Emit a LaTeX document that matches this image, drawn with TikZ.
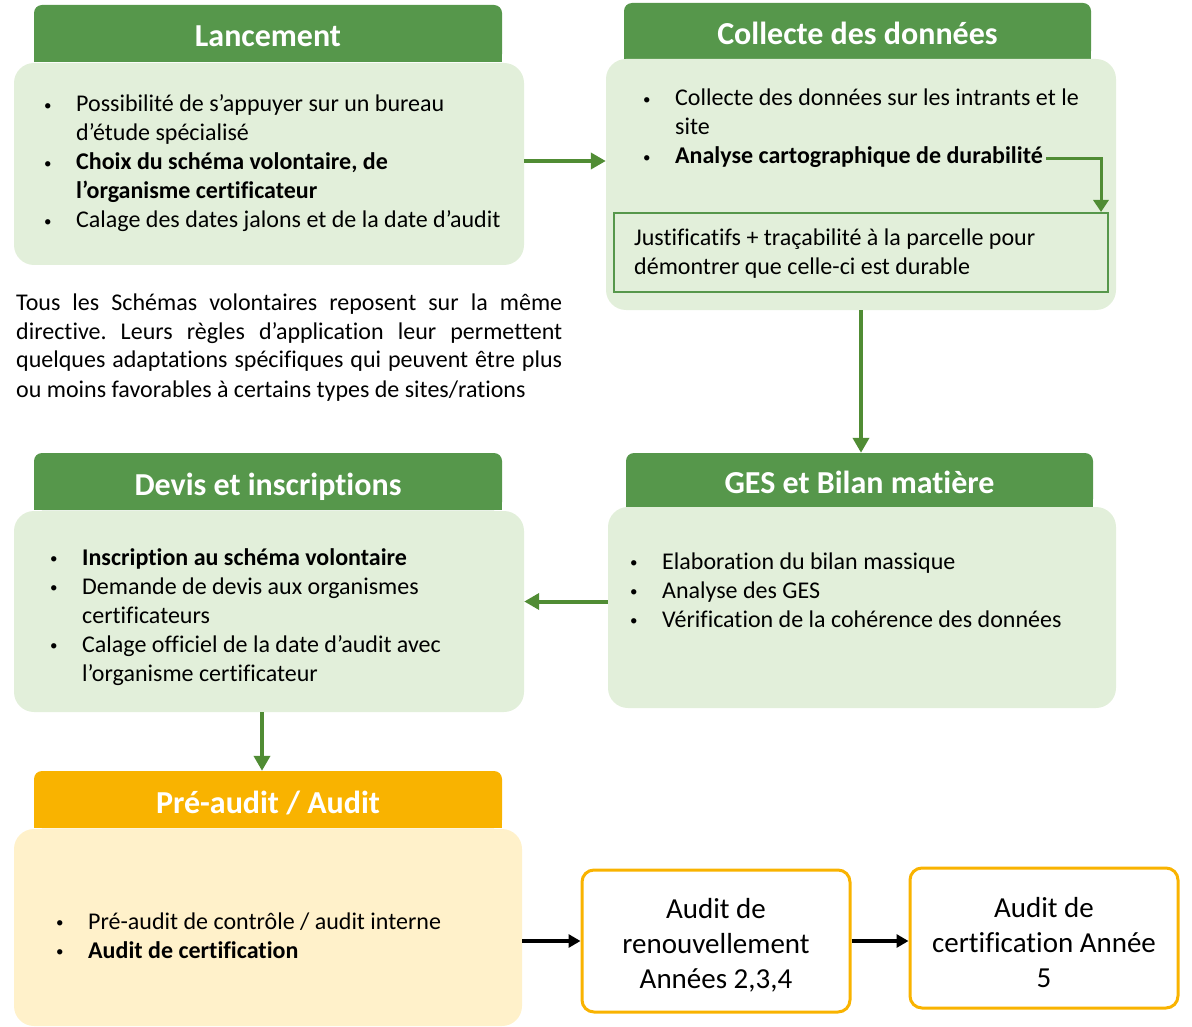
\documentclass[tikz,border=0pt]{standalone}
\usepackage{fontspec}
\setmainfont{Carlito}[Ligatures=CommonOff]
\usetikzlibrary{arrows.meta,backgrounds}
\definecolor{hdgreen}{RGB}{86,151,75}
\definecolor{arrgreen}{RGB}{80,140,52}
\definecolor{lightgreen}{RGB}{226,239,218}
\definecolor{gold}{RGB}{249,179,0}
\definecolor{lightgold}{RGB}{255,241,202}
\newcommand\bul{\makebox[32pt][l]{\raisebox{1.5pt}{\fontsize{15}{15}\selectfont\textbullet}}}
\newcommand\ind{\hspace*{32pt}}
\frenchspacing
\begin{document}
\begin{tikzpicture}[x=1pt,y=-1pt,
  hdr/.style={rectangle, rounded corners=8pt, inner sep=0pt, text=white,
    text height=27pt, text depth=0pt,
    font=\fontsize{32}{38}\selectfont\bfseries},
  body/.style={rectangle, rounded corners=20pt, inner sep=0pt},
  txt/.style={anchor=base west, inner sep=0pt, font=\fontsize{24}{29}\selectfont},
  garrow/.style={draw=arrgreen, line width=4pt, -{Triangle[length=15pt,width=16pt]}},
  karrow/.style={draw=black, line width=3.5pt, -{Triangle[length=12pt,width=13pt]}},
  auditbox/.style={rectangle, rounded corners=12pt, draw=gold, line width=3pt,
    fill=white, align=center, inner sep=0pt, font=\fontsize{29}{35}\selectfont}
]
\useasboundingbox (0,0) rectangle (1192,1027);

% ---- headers (tab shapes: rounded top, square bottom) ----
\node[hdr, fill=hdgreen, minimum width=468pt, minimum height=57pt] (lanH) at (268,33.5) {Lancement};
\node[hdr, fill=hdgreen, minimum width=467pt, minimum height=56pt] (colH) at (857.5,31) {Collecte des données};
\node[hdr, fill=hdgreen, minimum width=467pt, minimum height=54pt] (gesH) at (859.5,480) {GES et Bilan matière};
\node[hdr, fill=hdgreen, minimum width=468pt, minimum height=57pt] (devH) at (268,481.5) {Devis et inscriptions};
\node[hdr, fill=gold, minimum width=468pt, minimum height=57pt] (preH) at (268,799.5) {Pré-audit / Audit};
\begin{scope}[on background layer]
  \fill[hdgreen] (lanH.west) rectangle (lanH.south east);
  \fill[hdgreen] (colH.west) rectangle (colH.south east);
  \fill[hdgreen] (gesH.west) rectangle (gesH.south east);
  \fill[hdgreen] (devH.west) rectangle (devH.south east);
  \fill[gold] (preH.west) rectangle (preH.south east);
\end{scope}

% ---- bodies ----
\node[body, fill=lightgreen, minimum width=510pt, minimum height=202pt] (lanB) at (269,164) {};
\node[body, fill=lightgreen, minimum width=510pt, minimum height=251pt] (colB) at (861,184.5) {};
\node[body, fill=lightgreen, minimum width=508pt, minimum height=201pt] (gesB) at (862,607.5) {};
\node[body, fill=lightgreen, minimum width=510pt, minimum height=201pt] (devB) at (269,611.5) {};
\node[body, fill=lightgold, minimum width=508pt, minimum height=197pt] (preB) at (268,927.5) {};

% ---- body texts ----
\node[txt] (lanT) at (44,112) {\begin{tabular}[t]{@{}l@{}}
\bul Possibilité de s’appuyer sur un bureau\\
\ind d’étude spécialisé\\
\bul\textbf{Choix du schéma volontaire, de}\\
\ind\textbf{l’organisme certificateur}\\
\bul Calage des dates jalons et de la date d’audit
\end{tabular}};

\node[txt] (colT) at (643,106) {\begin{tabular}[t]{@{}l@{}}
\bul Collecte des données sur les intrants et le\\
\ind site\\
\bul\textbf{Analyse cartographique de durabilité}
\end{tabular}};
\coordinate (dur) at (1046,159);

\node[rectangle, draw=hdgreen, line width=2pt, fill=lightgreen, inner sep=0pt,
  minimum width=494pt, minimum height=79pt] (just) at (861,252.5) {};
\node[txt] (justT) at (634,246) {\begin{tabular}[t]{@{}l@{}}
Justificatifs + traçabilité à la parcelle pour\\
démontrer que celle-ci est durable
\end{tabular}};

\node[txt] (gesT) at (630,569) {\begin{tabular}[t]{@{}l@{}}
\bul Elaboration du bilan massique\\
\bul Analyse des GES\\
\bul Vérification de la cohérence des données
\end{tabular}};

\node[txt] (devT) at (50,565) {\begin{tabular}[t]{@{}l@{}}
\bul\textbf{Inscription au schéma volontaire}\\
\bul Demande de devis aux organismes\\
\ind certificateurs\\
\bul Calage officiel de la date d’audit avec\\
\ind l’organisme certificateur
\end{tabular}};

\node[txt] (preT) at (56,929) {\begin{tabular}[t]{@{}l@{}}
\bul Pré-audit de contrôle / audit interne\\
\bul\textbf{Audit de certification}
\end{tabular}};

\node[txt] (note) at (16,310) {\parbox[t]{546pt}{Tous les Schémas volontaires reposent sur la même\linebreak
directive. Leurs règles d’application leur permettent\linebreak
quelques adaptations spécifiques qui peuvent être plus\linebreak
ou moins favorables à certains types de sites/rations}};

% ---- audit boxes ----
\node[auditbox, minimum width=268pt, minimum height=142pt] (renew) at (716,941)
  {\rule{0pt}{28pt}Audit de\\ renouvellement\\ Années 2,3,4};
\node[auditbox, minimum width=268pt, minimum height=140pt] (cert5) at (1044,938)
  {\rule{0pt}{30pt}Audit de\\ certification Année\\ 5};

% ---- connectors ----
\draw[garrow] ([yshift=3pt]lanB.east) -- ([yshift=3pt]lanB.east -| colB.west);
\draw[garrow, line width=3pt, -{Triangle[length=12pt,width=15pt]}] (dur) -| ([xshift=-8pt]just.north east);
\draw[garrow] (colB.south) -- (colB.south |- gesH.north);
\draw[garrow] ([yshift=6pt]gesB.west) -- ([yshift=6pt]gesB.west -| devB.east);
\draw[garrow] ([xshift=-7pt]devB.south) -- ([xshift=-7pt]devB.south |- preH.north);
\draw[karrow] (renew.west -| preB.east) -- (renew.west);
\draw[karrow] (renew.east) -- (renew.east -| cert5.west);
\end{tikzpicture}
\end{document}
